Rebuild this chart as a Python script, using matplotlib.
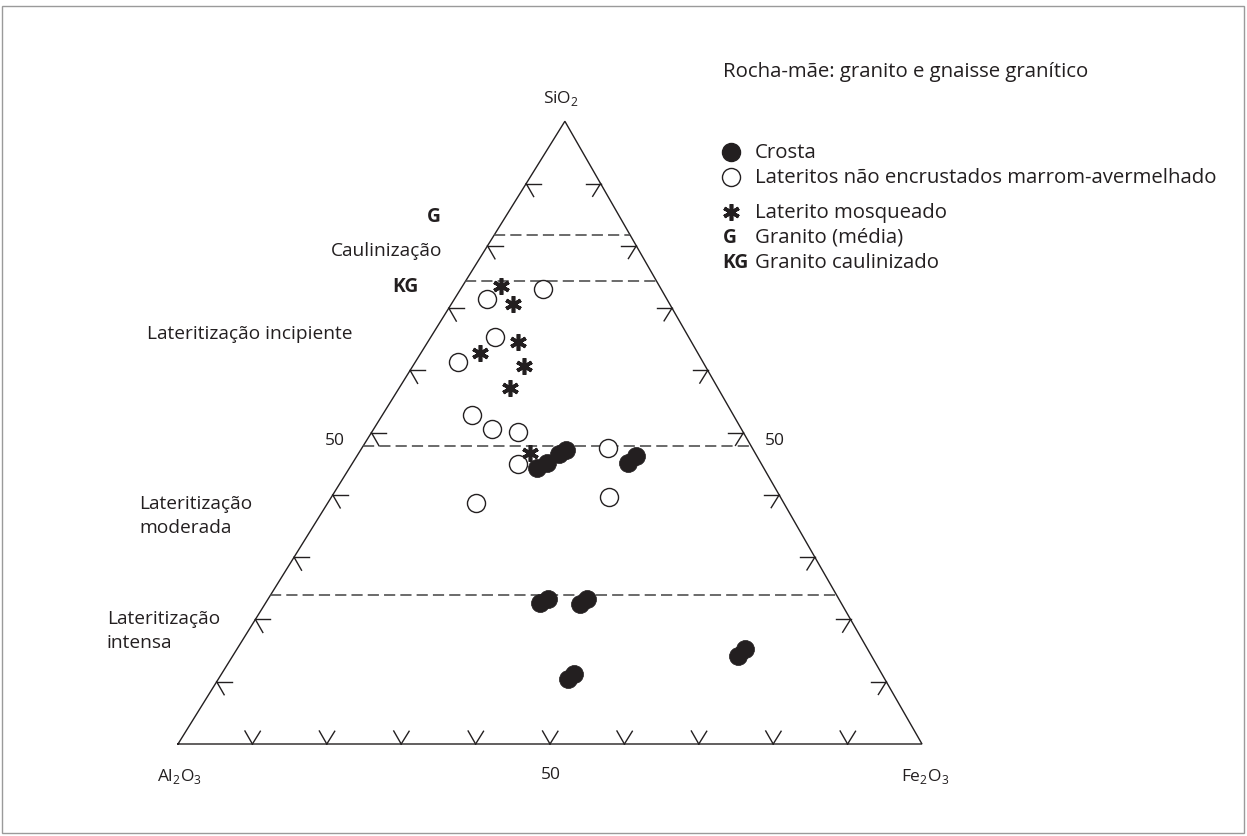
import numpy as np
import matplotlib.pyplot as plt
from matplotlib.patches import Rectangle

plt.rcParams["font.family"] = ["Open Sans", "DejaVu Sans"]
plt.rcParams["mathtext.fontset"] = "custom"
plt.rcParams["mathtext.rm"] = "Open Sans"

# compositions in % (SiO2, Al2O3, Fe2O3)
crosta_sio2 = [44.4, 45.0, 46.5, 47.2, 45.2, 46.2, 22.6, 23.3, 22.5, 23.3, 10.4, 11.2, 14.2, 15.2]
crosta_al2o3 = [30.5, 28.8, 26.5, 25.2, 17.8, 16.2, 40.5, 39.1, 35.2, 33.9, 42.5, 41.4, 17.9, 16.5]
crosta_fe2o3 = [25.2, 26.1, 27.0, 27.6, 37.0, 37.6, 36.9, 37.7, 42.3, 42.8, 47.0, 47.4, 67.9, 68.3]

lat_sio2 = [73.2, 71.5, 65.4, 61.3, 52.9, 50.6, 50.0, 44.9, 38.7, 47.5, 39.6]
lat_al2o3 = [15.9, 24.2, 26.0, 32.9, 35.2, 33.5, 30.3, 32.8, 41.4, 19.5, 23.0]
lat_fe2o3 = [11.0, 4.3, 8.6, 5.8, 12.0, 15.9, 19.6, 22.3, 19.9, 33.1, 37.4]

mosq_sio2 = [73.6, 70.6, 64.5, 62.8, 60.7, 57.1, 46.8]
mosq_al2o3 = [21.2, 21.1, 23.3, 29.3, 24.4, 28.0, 30.2]
mosq_fe2o3 = [5.2, 8.3, 12.2, 7.9, 14.9, 14.9, 23.0]

zone_limits_sio2 = [81.7, 74.3, 47.8, 23.9]
tick_values = [10, 20, 30, 40, 50, 60, 70, 80, 90]

legend_labels = ["Crosta", "Lateritos não encrustados marrom-avermelhado",
                 "Laterito mosqueado", "Granito (média)", "Granito caulinizado"]

# triangle shape: Al2O3 at (0,0), Fe2O3 at (1,0), SiO2 apex at (APEX_X, HEIGHT)
APEX_X = 0.52
HEIGHT = 0.837


def tern(si, al, fe):
    si, al, fe = np.asarray(si, float), np.asarray(al, float), np.asarray(fe, float)
    tot = si + al + fe
    return (fe + APEX_X * si) / tot, HEIGHT * si / tot


def px(x, y):
    # layout helper: image pixel -> data coords
    return (x - 178) / 744, (745 - y) / 744


fig = plt.figure(figsize=(12.47, 8.37), dpi=100)
ax = fig.add_axes([0, 0, 1, 1])
ax.set_xlim(-178 / 744, 1069 / 744)
ax.set_ylim(-92 / 744, 745 / 744)
ax.axis("off")

ink = "#231f20"
A = np.array(tern(0, 100, 0))
B = np.array(tern(0, 0, 100))
C = np.array(tern(100, 0, 0))
tri = np.array([A, B, C, A])
ax.plot(tri[:, 0], tri[:, 1], color=ink, lw=1.0, solid_joinstyle="miter")

# double ticks on each edge
L = 15 / 744
u_cb = (B - C) / np.linalg.norm(B - C)
u_ca = (A - C) / np.linalg.norm(A - C)
for v in tick_values:
    s = v / 100
    p = A + s * (C - A)
    for d in [np.array([1.0, 0.0]), u_cb]:
        ax.plot([p[0], p[0] + L * d[0]], [p[1], p[1] + L * d[1]], color=ink, lw=1.0)
    p = B + s * (C - B)
    for d in [np.array([-1.0, 0.0]), u_ca]:
        ax.plot([p[0], p[0] + L * d[0]], [p[1], p[1] + L * d[1]], color=ink, lw=1.0)
    p = A + s * (B - A)
    for d in [-u_cb, -u_ca]:
        ax.plot([p[0], p[0] + L * d[0]], [p[1], p[1] + L * d[1]], color=ink, lw=1.0)

# zone boundaries
for z in zone_limits_sio2:
    x0, y0 = tern(z, 100 - z, 0)
    x1, y1 = tern(z, 0, 100 - z)
    ax.plot([x0, x1], [y0, y1], color="#4a4a4a", lw=1.15, dashes=(7, 3.2))

# data
x, y = tern(lat_sio2, lat_al2o3, lat_fe2o3)
ax.plot(x, y, "o", ms=13, mfc="white", mec=ink, mew=1.0, ls="none", zorder=3)
x, y = tern(crosta_sio2, crosta_al2o3, crosta_fe2o3)
ax.plot(x, y, "o", ms=13, mfc=ink, mec=ink, mew=0.5, ls="none", zorder=4)
x, y = tern(mosq_sio2, mosq_al2o3, mosq_fe2o3)
ax.plot(x, y, marker=(6, 2, 0), ms=12, mec=ink, mew=2.6, ls="none", zorder=5)

fs = 12.5
fz = 13.8
fl = 14.7
# vertex labels
ax.text(*px(561, 98), "SiO$_\\mathregular{2}$", fontsize=fs, ha="center", va="center", color=ink)
ax.text(*px(179, 777), "Al$_\\mathregular{2}$O$_\\mathregular{3}$", fontsize=fs, ha="center", va="center", color=ink)
ax.text(*px(925, 777), "Fe$_\\mathregular{2}$O$_\\mathregular{3}$", fontsize=fs, ha="center", va="center", color=ink)
ax.text(*px(551, 775), "50", fontsize=fs, ha="center", va="center", color=ink)
ax.text(*px(335, 441), "50", fontsize=fs, ha="center", va="center", color=ink)
ax.text(*px(775, 441), "50", fontsize=fs, ha="center", va="center", color=ink)

# zone labels
ax.text(*px(427, 217), "G", fontsize=fz, fontweight="bold", ha="left", va="center", color=ink)
ax.text(*px(331, 251), "Caulinização", fontsize=fz, ha="left", va="center", color=ink)
ax.text(*px(392, 287), "KG", fontsize=fz, fontweight="bold", ha="left", va="center", color=ink)
ax.text(*px(147, 334), "Lateritização incipiente", fontsize=fz, ha="left", va="center", color=ink)
ax.text(*px(139, 516), "Lateritização\nmoderada", fontsize=fz, ha="left", va="center",
        linespacing=1.45, color=ink)
ax.text(*px(107, 631), "Lateritização\nintensa", fontsize=fz, ha="left", va="center",
        linespacing=1.45, color=ink)

# legend
ax.text(*px(723, 72), "Rocha-mãe: granito e gnaisse granítico", fontsize=fl, ha="left", va="center", color=ink)
rows_y = [153, 178, 213, 238, 263]
ax.plot(*px(731, rows_y[0]), "o", ms=13, mfc=ink, mec=ink)
ax.plot(*px(731, rows_y[1]), "o", ms=13, mfc="white", mec=ink, mew=1.0)
ax.plot(*px(731, rows_y[2]), marker=(6, 2, 0), ms=12, mec=ink, mew=2.6)
ax.text(*px(723, rows_y[3]), "G", fontsize=fz, fontweight="bold", ha="left", va="center", color=ink)
ax.text(*px(722, rows_y[4]), "KG", fontsize=fz, fontweight="bold", ha="left", va="center", color=ink)
for ry, lab in zip(rows_y, legend_labels):
    ax.text(*px(755, ry), lab, fontsize=fl, ha="left", va="center", color=ink)

fig.patches.append(Rectangle((2 / 1247, 3 / 837), 1242 / 1247, 827 / 837, transform=fig.transFigure,
                             fill=False, edgecolor="#9a9a9a", lw=1.0))

fig.savefig("out.png", dpi=100)
